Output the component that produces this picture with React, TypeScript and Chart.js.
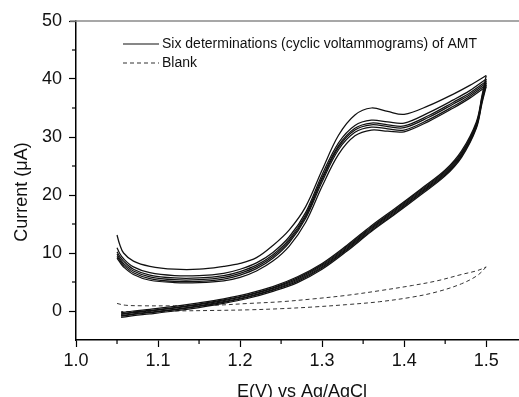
import React, { useEffect, useRef } from 'react';
import { Chart, registerables } from 'chart.js';

Chart.register(...registerables);

// ---- axis ticks ----
const X_TICKS = [1.0, 1.1, 1.2, 1.3, 1.4, 1.5];
const Y_TICKS = [0, 10, 20, 30, 40, 50];
const X_MINOR = [1.05, 1.15, 1.25, 1.35, 1.45];
const Y_MINOR = [5, 15, 25, 35, 45];

// ---- titles / legend ----
const X_TITLE = 'E(V) vs Ag/AgCl';
const Y_TITLE = 'Current (\u03bcA)';
const LEGEND_LABELS = ['Six determinations (cyclic voltammograms) of AMT', 'Blank'];

// ---- potentials (V) ----
const E_FWD = [1.05, 1.053, 1.058, 1.07, 1.09, 1.12, 1.15, 1.18, 1.2, 1.22, 1.24, 1.26, 1.28, 1.3, 1.32, 1.34, 1.36, 1.38, 1.4, 1.43, 1.46, 1.48, 1.5];
const E_REV = [1.5, 1.495, 1.488, 1.47, 1.45, 1.42, 1.39, 1.36, 1.33, 1.3, 1.27, 1.24, 1.21, 1.18, 1.15, 1.12, 1.09, 1.07, 1.055];

// ---- AMT, six determinations: forward (anodic) scans, current in µA ----
const FWD_1 = [13.1, 11.6, 10.0, 8.6, 7.7, 7.2, 7.2, 7.7, 8.2, 9.2, 11.3, 14.0, 18.0, 24.3, 30.3, 33.8, 35.0, 34.4, 33.9, 35.4, 37.4, 38.9, 40.6];
const FWD_2 = [10.9, 10.0, 9.0, 7.6, 6.6, 6.1, 6.1, 6.5, 7.2, 8.3, 10.1, 12.8, 17.0, 23.5, 29.0, 32.0, 32.9, 32.6, 32.4, 34.2, 36.4, 38.0, 40.0];
const FWD_3 = [10.2, 9.5, 8.6, 7.2, 6.2, 5.7, 5.7, 6.1, 6.8, 7.9, 9.7, 12.4, 16.6, 23.0, 28.5, 31.5, 32.4, 32.1, 31.9, 33.7, 36.0, 37.6, 39.6];
const FWD_4 = [9.8, 9.1, 8.2, 6.9, 5.9, 5.4, 5.4, 5.8, 6.5, 7.6, 9.4, 12.1, 16.3, 22.7, 28.2, 31.2, 32.1, 31.8, 31.6, 33.4, 35.7, 37.3, 39.3];
const FWD_5 = [9.4, 8.8, 7.9, 6.6, 5.6, 5.1, 5.1, 5.5, 6.2, 7.3, 9.1, 11.8, 16.0, 22.3, 27.8, 30.8, 31.7, 31.4, 31.2, 33.0, 35.3, 37.0, 39.0];
const FWD_6 = [9.1, 8.5, 7.6, 6.3, 5.3, 4.9, 4.9, 5.2, 5.8, 6.9, 8.6, 11.2, 15.3, 21.5, 27.0, 30.2, 31.2, 31.0, 30.9, 32.7, 35.0, 36.7, 38.7];

// ---- AMT, six determinations: reverse scans ----
const REV_1 = [40.6, 37.2, 32.6, 27.6, 24.3, 21.0, 17.8, 14.7, 11.3, 8.2, 5.9, 4.2, 3.0, 2.1, 1.4, 0.8, 0.3, 0.0, -0.3];
const REV_2 = [40.0, 36.9, 32.3, 27.3, 24.1, 20.8, 17.6, 14.5, 11.1, 8.0, 5.7, 4.0, 2.8, 1.9, 1.2, 0.6, 0.1, -0.2, -0.5];
const REV_3 = [39.6, 36.6, 32.1, 27.1, 23.9, 20.6, 17.4, 14.3, 10.9, 7.8, 5.5, 3.9, 2.7, 1.8, 1.1, 0.5, 0.0, -0.3, -0.6];
const REV_4 = [39.3, 36.4, 31.9, 26.9, 23.7, 20.4, 17.2, 14.1, 10.7, 7.6, 5.3, 3.7, 2.5, 1.6, 0.9, 0.3, -0.2, -0.5, -0.8];
const REV_5 = [39.0, 36.2, 31.7, 26.7, 23.5, 20.2, 17.0, 13.9, 10.5, 7.4, 5.1, 3.6, 2.4, 1.5, 0.8, 0.2, -0.3, -0.6, -0.9];
const REV_6 = [38.7, 35.9, 31.5, 26.5, 23.3, 20.0, 16.8, 13.7, 10.3, 7.2, 4.9, 3.4, 2.2, 1.3, 0.6, 0.0, -0.5, -0.8, -1.1];

// ---- Blank ----
const E_BLANK_FWD = [1.05, 1.06, 1.08, 1.12, 1.17, 1.21, 1.25, 1.29, 1.33, 1.37, 1.41, 1.44, 1.47, 1.49, 1.5];
const I_BLANK_FWD = [1.3, 1.0, 0.9, 0.9, 1.0, 1.3, 1.6, 2.1, 2.7, 3.5, 4.4, 5.2, 6.3, 7.0, 7.6];
const E_BLANK_REV = [1.5, 1.49, 1.47, 1.44, 1.41, 1.37, 1.33, 1.29, 1.25, 1.21, 1.17, 1.12, 1.08, 1.055];
const I_BLANK_REV = [7.6, 6.2, 4.7, 3.3, 2.4, 1.6, 1.1, 0.7, 0.4, 0.2, 0.1, 0.0, -0.1, -0.1];

const FWD_SERIES = [FWD_1, FWD_2, FWD_3, FWD_4, FWD_5, FWD_6];
const REV_SERIES = [REV_1, REV_2, REV_3, REV_4, REV_5, REV_6];

const FONT = '"Liberation Sans", Arial, Helvetica, sans-serif';

const toPoints = (xs: number[], ys: number[]) => xs.map((x, i) => ({ x, y: ys[i] }));

const decorPlugin = {
  id: 'decor',
  afterDraw(chart: any) {
    const { ctx, chartArea, scales } = chart;
    const xs = scales.x;
    const ys = scales.y;
    ctx.save();
    // top frame line (gray)
    ctx.strokeStyle = '#8a8a8a';
    ctx.lineWidth = 1.5;
    ctx.beginPath();
    ctx.moveTo(chartArea.left - 6, chartArea.top);
    ctx.lineTo(chart.width, chartArea.top);
    ctx.stroke();
    // minor ticks
    ctx.strokeStyle = '#000';
    ctx.lineWidth = 1.2;
    X_MINOR.forEach((v) => {
      const px = xs.getPixelForValue(v);
      ctx.beginPath();
      ctx.moveTo(px, chartArea.bottom);
      ctx.lineTo(px, chartArea.bottom + 4);
      ctx.stroke();
    });
    Y_MINOR.forEach((v) => {
      const py = ys.getPixelForValue(v);
      ctx.beginPath();
      ctx.moveTo(chartArea.left, py);
      ctx.lineTo(chartArea.left - 4, py);
      ctx.stroke();
    });
    // axis titles
    ctx.fillStyle = '#111';
    ctx.font = `18px ${FONT}`;
    ctx.textAlign = 'center';
    ctx.textBaseline = 'alphabetic';
    ctx.fillText(X_TITLE, 302, 397);
    ctx.save();
    ctx.translate(27, 192);
    ctx.rotate(-Math.PI / 2);
    ctx.fillText(Y_TITLE, 0, 0);
    ctx.restore();
    // legend
    const lx0 = 123, lx1 = 159, tx = 162;
    const rows = [44, 63];
    ctx.font = `14px ${FONT}`;
    ctx.textBaseline = 'middle';
    ctx.textAlign = 'left';
    ctx.fillStyle = '#111';
    LEGEND_LABELS.forEach((label, i) => {
      ctx.beginPath();
      ctx.lineWidth = 1.2;
      ctx.strokeStyle = i === 0 ? '#111' : '#333';
      ctx.setLineDash(i === 0 ? [] : [4, 3]);
      ctx.moveTo(lx0, rows[i]);
      ctx.lineTo(lx1, rows[i]);
      ctx.stroke();
      ctx.setLineDash([]);
      ctx.fillText(label, tx, rows[i]);
    });
    ctx.restore();
  },
};

export default function App() {
  const ref = useRef<HTMLCanvasElement | null>(null);

  useEffect(() => {
    if (!ref.current) return;
    const datasets: any[] = [];
    FWD_SERIES.forEach((ys) => {
      datasets.push({ data: toPoints(E_FWD, ys), borderColor: '#111', borderWidth: 1.25 });
    });
    REV_SERIES.forEach((ys) => {
      datasets.push({ data: toPoints(E_REV, ys), borderColor: '#111', borderWidth: 1.25 });
    });
    datasets.push({ data: toPoints(E_BLANK_FWD, I_BLANK_FWD), borderColor: '#333', borderWidth: 1, borderDash: [4, 3] });
    datasets.push({ data: toPoints(E_BLANK_REV, I_BLANK_REV), borderColor: '#333', borderWidth: 1, borderDash: [4, 3] });

    const chart = new Chart(ref.current, {
      type: 'line',
      data: { datasets },
      options: {
        responsive: false,
        animation: false,
        devicePixelRatio: 1,
        layout: { padding: { top: 21, right: 0, left: 0, bottom: 0 } },
        elements: {
          point: { radius: 0, hitRadius: 0, hoverRadius: 0 },
          line: { tension: 0.35, fill: false },
        },
        plugins: { legend: { display: false }, tooltip: { enabled: false } },
        scales: {
          x: {
            type: 'linear',
            min: 1.0,
            max: 1.54,
            afterBuildTicks: (s: any) => {
              s.ticks = X_TICKS.map((v) => ({ value: v }));
            },
            afterFit: (s: any) => {
              s.height = 57;
            },
            ticks: {
              color: '#111',
              font: { family: FONT, size: 18 },
              padding: 3,
              maxRotation: 0,
              autoSkip: false,
              callback: (v: any) => Number(v).toFixed(1),
            },
            grid: { drawOnChartArea: false, drawTicks: true, tickLength: 7, tickColor: '#000', tickWidth: 1.2 },
            border: { display: true, color: '#000', width: 1.5 },
            title: { display: false },
          },
          y: {
            type: 'linear',
            min: -5,
            max: 50,
            afterBuildTicks: (s: any) => {
              s.ticks = Y_TICKS.map((v) => ({ value: v }));
            },
            afterFit: (s: any) => {
              s.width = 76;
            },
            ticks: {
              color: '#111',
              font: { family: FONT, size: 18 },
              padding: 7,
              autoSkip: false,
              callback: (v: any) => String(v),
            },
            grid: { drawOnChartArea: false, drawTicks: true, tickLength: 7, tickColor: '#000', tickWidth: 1.2 },
            border: { display: true, color: '#000', width: 1.5 },
            title: { display: false },
          },
        },
      },
      plugins: [decorPlugin],
    });
    return () => chart.destroy();
  }, []);

  return (
    <div style={{ position: 'fixed', left: 0, top: 0, width: 519, height: 397, background: '#fff' }}>
      <canvas ref={ref} width={519} height={397} style={{ width: 519, height: 397, display: 'block' }} />
    </div>
  );
}
